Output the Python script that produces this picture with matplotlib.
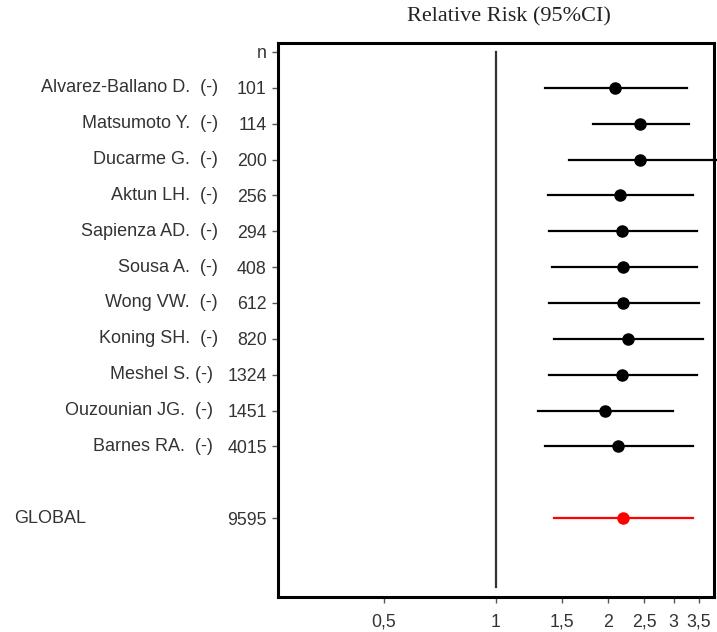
import matplotlib
matplotlib.use("Agg")
import matplotlib.pyplot as plt
import matplotlib.transforms as mtransforms
from matplotlib.ticker import FixedLocator, NullLocator

# study data
studies = ["Alvarez-Ballano D.  (-)", "Matsumoto Y.  (-)", "Ducarme G.  (-)",
           "Aktun LH.  (-)", "Sapienza AD.  (-)", "Sousa A.  (-)",
           "Wong VW.  (-)", "Koning SH.  (-)", "Meshel S. (-)",
           "Ouzounian JG.  (-)", "Barnes RA.  (-)"]
n_values = ["101", "114", "200", "256", "294", "408", "612", "820",
            "1324", "1451", "4015"]
rr = [2.09, 2.44, 2.44, 2.15, 2.18, 2.19, 2.19, 2.26, 2.18, 1.96, 2.13]
ci_low = [1.35, 1.82, 1.57, 1.38, 1.39, 1.41, 1.39, 1.43, 1.39, 1.30, 1.35]
ci_high = [3.26, 3.30, 3.93, 3.38, 3.47, 3.47, 3.51, 3.60, 3.47, 2.99, 3.38]

global_n = "9595"
global_rr = 2.19
global_low = 1.43
global_high = 3.38

x_ticks = [0.5, 1, 1.5, 2, 2.5, 3, 3.5]
x_ticklabels = ["0,5", "1", "1,5", "2", "2,5", "3", "3,5"]

fig = plt.figure(figsize=(7.17, 6.32), dpi=100)
ax = fig.add_axes([0.3877, 0.0554, 0.608, 0.8766])

rows = list(range(1, len(studies) + 1))
global_row = len(studies) + 2

for y, m, lo, hi in zip(rows, rr, ci_low, ci_high):
    ax.plot([lo, hi], [y, y], color="black", linewidth=1.6, clip_on=False)
    ax.plot(m, y, marker="o", color="black", markersize=8)

ax.plot([global_low, global_high], [global_row, global_row], color="red", linewidth=1.6)
ax.plot(global_rr, global_row, marker="o", color="red", markersize=8)

# line of no effect
ax.plot([1, 1], [0, 14.93], color="#333333", linewidth=1.6)

ax.set_xscale("log")
ax.set_xlim(0.2595, 3.85)
ax.set_ylim(15.2, -0.25)
ax.xaxis.set_major_locator(FixedLocator(x_ticks))
ax.xaxis.set_minor_locator(NullLocator())
ax.set_xticklabels(x_ticklabels)

ax.set_yticks([0] + rows + [global_row])
ax.set_yticklabels(["n"] + n_values + [global_n])

ax.tick_params(axis="both", labelsize=12.8, labelcolor="#333333", length=4,
               width=1, color="#555555", direction="out")
ax.tick_params(axis="y", pad=4)
ax.tick_params(axis="x", pad=8)
for tl in ax.get_yticklabels() + ax.get_xticklabels():
    tl.set_fontfamily("Liberation Sans")

for s in ax.spines.values():
    s.set_linewidth(2.2)
    s.set_color("black")

trans = mtransforms.blended_transform_factory(fig.transFigure, ax.transData)
for y, name, n in zip(rows, studies, n_values):
    xr = 0.304 if len(n) == 3 else 0.297
    ax.text(xr, y, name, transform=trans, ha="right", va="center",
            fontsize=13, color="#333333", family="Liberation Sans")
ax.text(14 / 717, global_row, "GLOBAL", transform=trans, ha="left", va="center",
        fontsize=13, color="#333333", family="Liberation Sans")

fig.text(509 / 717, 1 - 17 / 632, "Relative Risk (95%CI)", ha="center", va="center",
         fontsize=16, family="Liberation Serif", color="#222222")

fig.savefig("out.png", dpi=100)
